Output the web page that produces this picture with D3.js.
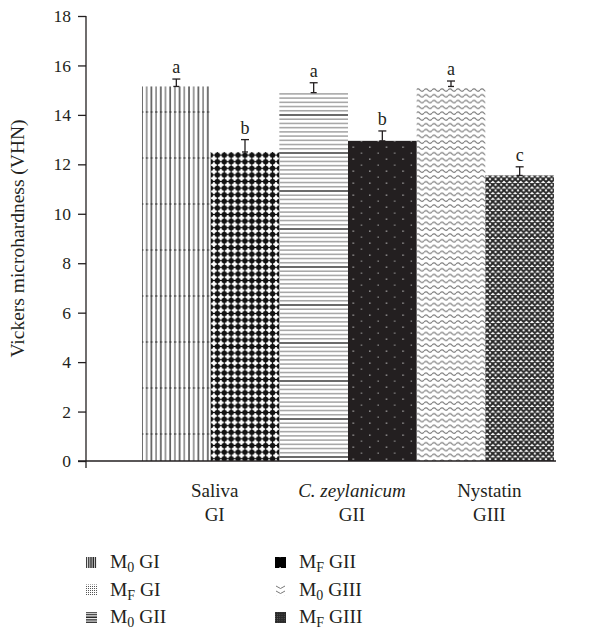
<!DOCTYPE html>
<html><head><meta charset="utf-8">
<script src="https://cdn.jsdelivr.net/npm/d3@7"></script>
<style>body{margin:0;background:#fff}text{font-family:"Liberation Serif","DejaVu Serif",serif;fill:#231f20}</style>
</head><body><svg id="c" width="603" height="629"></svg>
<script>
const groups = ["Saliva","C. zeylanicum","Nystatin"];
const groupCodes = ["GI","GII","GIII"];
const series = ["M0 GI","MF GI","M0 GII","MF GII","M0 GIII","MF GIII"];
const values = [15.15, 12.5, 14.9, 12.95, 15.15, 11.55];
const errors = [0.3, 0.5, 0.4, 0.4, 0.22, 0.35];
const letters = ["a","b","a","b","a","c"];
const yTicks = [0,2,4,6,8,10,12,14,16,18];
const legendMain = ["M","M","M","M","M","M"];
const legendSub = ["0","F","0","F","0","F"];
const legendRest = [" GI"," GI"," GII"," GII"," GIII"," GIII"];

const svg = d3.select("#c");
const defs = svg.append("defs");
const dark = "#231f20";

function pat(id,w,h){return defs.append("pattern").attr("id",id).attr("patternUnits","userSpaceOnUse").attr("width",w).attr("height",h);}
// pattern 0: vertical lines
let p = pat("p0",9.4,46);
p.append("line").attr("x1",1).attr("x2",1).attr("y1",0).attr("y2",46).attr("stroke","#2a2a2a").attr("stroke-width",1.3);
p.append("line").attr("x1",5.7).attr("x2",5.7).attr("y1",0).attr("y2",46).attr("stroke","#808080").attr("stroke-width",1.5);
p.append("line").attr("x1",0).attr("x2",9.4).attr("y1",20).attr("y2",20).attr("stroke","#2a2a2a").attr("stroke-width",1.2).attr("stroke-dasharray","2.4,2.3");
// pattern 1: dots
p = pat("p1",6.9,6.6);
p.append("line").attr("x1",0).attr("x2",6.9).attr("y1",3.3).attr("y2",3.3).attr("stroke","#111").attr("stroke-width",1.2);
p.append("line").attr("x1",3.45).attr("x2",3.45).attr("y1",0).attr("y2",6.6).attr("stroke","#111").attr("stroke-width",1.2);
p.append("circle").attr("cx",3.45).attr("cy",3.3).attr("r",2.7).attr("fill","#111");
// pattern 2: horizontal lines
p = pat("p2",10,38);
for (let i=0;i<9;i++) p.append("line").attr("x1",0).attr("x2",10).attr("y1",1+i*4.22).attr("y2",1+i*4.22).attr("stroke", i===0?"#1a1a1a":"#a8a8a8").attr("stroke-width",i===0?1.3:1.6);
// pattern 3: dark with dots
p = pat("p3",16.6,12);
p.append("rect").attr("width",16.6).attr("height",12).attr("fill",dark);
p.append("rect").attr("x",4).attr("y",2.5).attr("width",1.3).attr("height",1.3).attr("fill","#bbb");
p.append("rect").attr("x",12.3).attr("y",8.5).attr("width",1.3).attr("height",1.3).attr("fill","#999");
// pattern 4: waves
p = pat("p4",8,5.8);
p.append("path").attr("d","M0,3 Q2,0.6 4,3 T8,3").attr("fill","none").attr("stroke","#7a7a7a").attr("stroke-width",1.1);
// pattern 5: crosshatch
p = pat("p5",5.6,5.6);
p.append("rect").attr("width",5.6).attr("height",5.6).attr("fill","#fff");
p.append("path").attr("d","M-1,-1 L6.6,6.6 M-1,6.6 L6.6,-1 M-3.8,1.8 L1.8,-3.8 M3.8,9.4 L9.4,3.8 M-3.8,3.8 L1.8,9.4 M3.8,-3.8 L9.4,1.8").attr("stroke","#262626").attr("stroke-width",1.9);

// legend swatch patterns
p = pat("l0",2.2,11);
p.append("line").attr("x1",0.8).attr("x2",0.8).attr("y1",0).attr("y2",11).attr("stroke","#111").attr("stroke-width",1.2);
p = pat("l1",2,2);
p.append("rect").attr("width",2).attr("height",2).attr("fill","#fff");
p.append("rect").attr("width",1).attr("height",1).attr("fill","#555");
p = pat("l2",11,2.6);
p.append("line").attr("x1",0).attr("x2",11).attr("y1",1).attr("y2",1).attr("stroke","#111").attr("stroke-width",1.3);
p = pat("l3",11,11);
p.append("rect").attr("width",11).attr("height",11).attr("fill","#000");
p.append("rect").attr("x",4.5).attr("y",6).attr("width",1.2).attr("height",1.2).attr("fill","#fff");
p = pat("l4",11,5);
p.append("path").attr("d","M1,1 L5.5,3.5 L10,1").attr("fill","none").attr("stroke","#777").attr("stroke-width",1);
p = pat("l5",2.2,2.2);
p.append("rect").attr("width",2.2).attr("height",2.2).attr("fill","#2a2a2a");
p.append("rect").attr("width",0.8).attr("height",0.8).attr("fill","#666");

const y = d3.scaleLinear().domain([0,18]).range([461,16]);
const x = d3.scaleBand().domain(series).range([142,554]).padding(0);
const xg = d3.scaleBand().domain(groups).range([142,554]).padding(0);

// bars
svg.selectAll("rect.bar").data(series).join("rect").attr("class","bar")
  .attr("x",d=>x(d)).attr("width",x.bandwidth())
  .attr("y",(d,i)=>y(values[i])).attr("height",(d,i)=>y(0)-y(values[i]))
  .attr("fill",(d,i)=>`url(#p${i})`);

// error bars
const eb = svg.append("g").attr("stroke",dark).attr("stroke-width",1.3);
series.forEach((s,i)=>{
  const cx = x(s)+x.bandwidth()/2;
  eb.append("line").attr("x1",cx).attr("x2",cx).attr("y1",y(values[i])).attr("y2",y(values[i]+errors[i]));
  eb.append("line").attr("x1",cx-4).attr("x2",cx+4).attr("y1",y(values[i]+errors[i])).attr("y2",y(values[i]+errors[i]));
  eb.append("line").attr("x1",cx-3).attr("x2",cx+3).attr("y1",y(values[i])).attr("y2",y(values[i]));
  svg.append("text").attr("x",cx).attr("y",y(values[i]+errors[i])-6).attr("text-anchor","middle").attr("font-size",18).text(letters[i]);
});

// axes
const ya = svg.append("g").attr("transform","translate(86,0)").call(d3.axisLeft(y).tickValues(yTicks).tickSize(8).tickPadding(7));
ya.select(".domain").attr("d",`M0,${y(18)}V${y(0)+7}`).attr("stroke",dark).attr("stroke-width",1.3);
ya.selectAll(".tick line").attr("stroke",dark).attr("stroke-width",1.3);
ya.selectAll(".tick text").attr("font-family","Liberation Serif").attr("font-size",17.5).attr("fill",dark);
svg.append("line").attr("x1",78).attr("x2",556).attr("y1",y(0)).attr("y2",y(0)).attr("stroke",dark).attr("stroke-width",1.5);

svg.append("text").attr("transform",`translate(24,${(y(0)+y(18))/2}) rotate(-90)`).attr("text-anchor","middle").attr("font-size",19.5).text("Vickers microhardness (VHN)");

// group labels
groups.forEach((g,i)=>{
  const cx = xg(g)+xg.bandwidth()/2+4;
  svg.append("text").attr("x",cx).attr("y",497).attr("text-anchor","middle").attr("font-size",19)
    .attr("font-style", i===1?"italic":"normal").text(g);
  svg.append("text").attr("x",cx).attr("y",521).attr("text-anchor","middle").attr("font-size",19).text(groupCodes[i]);
});

// legend
series.forEach((s,i)=>{
  const col = Math.floor(i/3), row = i%3;
  const lx = col===0?86:275, ly = 557+row*27.5;
  svg.append("rect").attr("x",lx).attr("y",ly).attr("width",11).attr("height",11).attr("fill",`url(#l${i})`);
  const t = svg.append("text").attr("x",lx+24).attr("y",ly+11).attr("font-size",19.5);
  t.append("tspan").text(legendMain[i]);
  t.append("tspan").attr("dy",4).attr("font-size",14).text(legendSub[i]);
  t.append("tspan").attr("dy",-4).text(legendRest[i]);
});
</script></body></html>
